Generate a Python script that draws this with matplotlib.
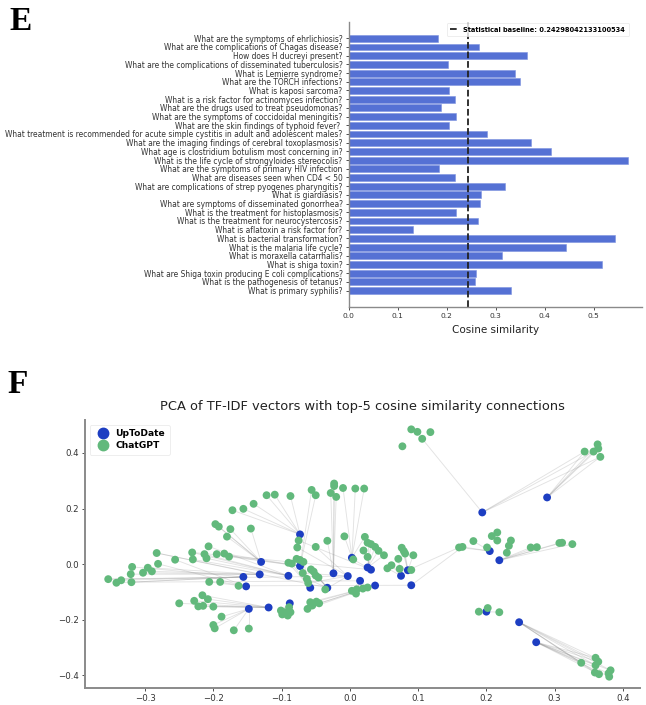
import matplotlib
matplotlib.use("Agg")
import matplotlib.pyplot as plt
from matplotlib.lines import Line2D
from matplotlib.collections import LineCollection

plt.rcParams['font.family'] = ['DejaVu Sans']

# ---------------- Panel E data ----------------
questions = [
    "What are the symptoms of ehrlichiosis?",
    "What are the complications of Chagas disease?",
    "How does H ducreyi present?",
    "What are the complications of disseminated tuberculosis?",
    "What is Lemierre syndrome?",
    "What are the TORCH infections?",
    "What is kaposi sarcoma?",
    "What is a risk factor for actinomyces infection?",
    "What are the drugs used to treat pseudomonas?",
    "What are the symptoms of coccidoidal meningitis?",
    "What are the skin findings of typhoid fever? ",
    "What treatment is recommended for acute simple cystitis in adult and adolescent males?",
    "What are the imaging findings of cerebral toxoplasmosis?",
    "What age is clostridium botulism most concerning in?",
    "What is the life cycle of strongyloides stereocolis?",
    "What are the symptoms of primary HIV infection",
    "What are diseases seen when CD4 < 50",
    "What are complications of strep pyogenes pharyngitis?",
    "What is giardiasis?",
    "What are symptoms of disseminated gonorrhea?",
    "What is the treatment for histoplasmosis?",
    "What is the treatment for neurocystercosis?",
    "What is aflatoxin a risk factor for?",
    "What is bacterial transformation?",
    "What is the malaria life cycle?",
    "What is moraxella catarrhalis?",
    "What is shiga toxin?",
    "What are Shiga toxin producing E coli complications?",
    "What is the pathogenesis of tetanus?",
    "What is primary syphilis?",
]
cosine = [0.182, 0.265, 0.364, 0.203, 0.340, 0.350, 0.204, 0.216, 0.188, 0.219,
          0.205, 0.281, 0.371, 0.413, 0.570, 0.184, 0.216, 0.318, 0.269, 0.268,
          0.218, 0.264, 0.131, 0.544, 0.444, 0.312, 0.517, 0.260, 0.258, 0.331]
baseline = 0.24298042133100534

# ---------------- Panel F data ----------------
# UpToDate points (PCA coordinates)
up_x = [0.289, 0.194, 0.205, 0.219, 0.248, 0.273, 0.200,
        -0.073, -0.130, -0.132, -0.156, -0.152, -0.090, -0.073, -0.058, -0.033,
        -0.024, -0.003, 0.003, 0.015, 0.026, 0.031, 0.037, 0.075, 0.085, 0.090,
        -0.148, -0.119, -0.088]
up_y = [0.240, 0.186, 0.047, 0.014, -0.209, -0.281, -0.171,
        0.107, 0.008, -0.037, -0.046, -0.080, -0.042, -0.007, -0.085, -0.085,
        -0.033, -0.043, 0.023, -0.060, -0.012, -0.020, -0.077, -0.042, -0.022, -0.076,
        -0.161, -0.156, -0.141]

# ChatGPT points and the UpToDate points they are linked to (top-5 cosine)
gpt_x = [0.344, 0.357, 0.363, 0.364, 0.367,
         0.090, 0.099, 0.118, 0.106, 0.077,
         0.160, 0.165, 0.201, 0.181, 0.208, 0.216, 0.216, 0.236, 0.233, 0.230,
         0.265, 0.274, 0.307, 0.311, 0.326,
         0.189, 0.202, 0.219,
         0.339, 0.360, 0.364, 0.360, 0.359, 0.365, 0.379, 0.382, 0.380,
         -0.122, -0.110, -0.087, -0.141, -0.156, -0.172,
         -0.197, -0.192, -0.175, -0.180, -0.145,
         -0.354, -0.342, -0.335, -0.320, -0.319,
         -0.296, -0.290, -0.303, -0.321, -0.283,
         -0.206, -0.190, -0.163, -0.281, -0.256,
         -0.231, -0.230, -0.213, -0.210, -0.207,
         -0.195, -0.184, -0.177, -0.056, -0.050,
         -0.023, -0.023, -0.028, -0.020, -0.033,
         -0.010, 0.008, 0.021, -0.008, 0.022,
         -0.090, -0.085, -0.078, -0.073, -0.068,
         -0.057, -0.053, -0.050, -0.046, -0.063,
         -0.061, -0.069, -0.036, -0.050, -0.077,
         0.003, 0.010, 0.009, 0.019, 0.026,
         0.026, 0.031, 0.037, 0.042, 0.050,
         0.020, 0.026, 0.005, -0.075,
         0.073, 0.061, 0.055, 0.071,
         0.076, 0.079, 0.081, 0.093, 0.090,
         -0.170, -0.148, -0.200, -0.198, -0.188,
         -0.250, -0.228, -0.216, -0.208, -0.222, -0.215, -0.200,
         -0.101, -0.096, -0.089, -0.099, -0.091, -0.087,
         -0.062, -0.058, -0.049, -0.045, -0.055]
gpt_y = [0.405, 0.405, 0.431, 0.416, 0.386,
         0.485, 0.476, 0.475, 0.451, 0.424,
         0.060, 0.062, 0.060, 0.083, 0.101, 0.114, 0.085, 0.085, 0.066, 0.041,
         0.060, 0.061, 0.076, 0.077, 0.072,
         -0.171, -0.158, -0.173,
         -0.355, -0.337, -0.351, -0.364, -0.390, -0.396, -0.393, -0.382, -0.405,
         0.248, 0.250, 0.245, 0.217, 0.199, 0.194,
         0.144, 0.135, 0.126, 0.099, 0.128,
         -0.054, -0.067, -0.058, -0.065, -0.010,
         -0.013, -0.026, -0.031, -0.036, 0.040,
         -0.064, -0.064, -0.078, 0.001, 0.016,
         0.042, 0.017, 0.036, 0.021, 0.064,
         0.036, 0.038, 0.027, 0.267, 0.248,
         0.290, 0.281, 0.256, 0.242, 0.084,
         0.274, 0.272, 0.272, 0.100, 0.098,
         0.005, 0.002, 0.019, 0.015, 0.008,
         -0.019, -0.027, -0.041, -0.048, -0.053,
         -0.068, -0.032, -0.091, 0.062, 0.060,
         -0.096, -0.091, -0.106, -0.088, -0.084,
         0.077, 0.072, 0.062, 0.048, 0.032,
         0.049, 0.026, 0.017, 0.085,
         -0.017, -0.004, -0.015, 0.019,
         0.059, 0.047, 0.038, 0.032, -0.021,
         -0.238, -0.232, -0.219, -0.231, -0.189,
         -0.141, -0.132, -0.112, -0.126, -0.152, -0.150, -0.153,
         -0.167, -0.173, -0.155, -0.181, -0.185, -0.173,
         -0.161, -0.137, -0.135, -0.141, -0.149]
gpt_links = [(0, 1), (0, 1), (0,), (0,), (0, 1),
             (), (), (), (1,), (),
             (2, 24), (2, 25), (2,), (2,), (), (), (), (), (), (),
             (3,), (3,), (3,), (3,), (3,),
             (6,), (6,), (6,),
             (4, 5), (4, 5), (4, 5), (4, 5), (4,), (4, 5), (5,), (4, 5), (5,),
             (7,), (7,), (7,), (7,), (7,), (7,),
             (8,), (8,), (8,), (8,), (8,),
             (10, 17), (10,), (10,), (10, 19), (10,),
             (9,), (9,), (9,), (9,), (9, 15),
             (11,), (11,), (11, 25), (11,), (11,),
             (12, 21), (12,), (12,), (12,), (12,),
             (13,), (13,), (13,), (13,), (13,),
             (16,), (16,), (16,), (16,), (16,),
             (18,), (18,), (18,), (18,), (18,),
             (14,), (14,), (14,), (14,), (14,),
             (15,), (15,), (15,), (15,), (15,),
             (17,), (17,), (17,), (17,), (17,),
             (19,), (19,), (19,), (19,), (19,),
             (20,), (20,), (20,), (20,), (20,),
             (21,), (21,), (21,), (21,),
             (23,), (23,), (23,), (23,),
             (24,), (24,), (24,), (24,), (24,),
             (26,), (26,), (26,), (26,), (26,),
             (27,), (27,), (27,), (27,), (27,), (27,), (27,),
             (28,), (28,), (28,), (28,), (28,), (28,),
             (22,), (22,), (22,), (22,), (22,)]

BAR_COLOR = '#5571d4'
UP_COLOR = '#1d3ec2'
GPT_COLOR = '#62b97c'
SPINE = '#8a8a8a'

fig = plt.figure(figsize=(6.46, 7.05), dpi=100)

# ---------------- Panel E ----------------
axE = fig.add_axes([0.540, 0.5645, 0.454, 0.4045])
ypos = list(range(len(questions)))
axE.barh(ypos, cosine, height=0.8, color=BAR_COLOR, edgecolor='#7d93e0', linewidth=0.4)
axE.axvline(baseline, color='#222222', ls='--', lw=1.3,
            label=f'Statistical baseline: {baseline}')
axE.set_yticks(ypos)
axE.set_yticklabels(questions, fontsize=5.45, color='#333333')
axE.invert_yaxis()
axE.set_xticks([0.0, 0.1, 0.2, 0.3, 0.4, 0.5])
axE.tick_params(axis='x', labelsize=5.4, colors='#333333', length=2.5, width=0.6, pad=2)
axE.tick_params(axis='y', length=2.5, width=0.6, pad=2, colors='#333333')
axE.set_xlabel('Cosine similarity', fontsize=7.5, color='#222222', labelpad=4)
for s in ['top', 'right']:
    axE.spines[s].set_visible(False)
for s in ['left', 'bottom']:
    axE.spines[s].set_color(SPINE)
    axE.spines[s].set_linewidth(1.0)
legE = axE.legend(loc='upper right', prop={'weight': 'bold', 'size': 4.75},
                  frameon=True, handlelength=1.4, borderpad=0.55, handletextpad=0.6,
                  borderaxespad=0.0, bbox_to_anchor=(0.955, 0.996))
legE.get_frame().set_edgecolor('#e6e6e6')
legE.get_frame().set_linewidth(0.6)

fig.text(0.014, 0.970, 'E', fontsize=24, fontweight='bold', family='Liberation Serif', va='center')

# ---------------- Panel F ----------------
axF = fig.add_axes([0.1316, 0.024, 0.859, 0.38])
segs = []
for gx, gy, links in zip(gpt_x, gpt_y, gpt_links):
    for b in links:
        segs.append([(up_x[b], up_y[b]), (gx, gy)])
axF.add_collection(LineCollection(segs, colors='#888888', alpha=0.24, linewidths=0.65, zorder=1))
axF.scatter(up_x, up_y, s=32, color=UP_COLOR, edgecolors='none', zorder=2, label='UpToDate')
axF.scatter(gpt_x, gpt_y, s=32, color=GPT_COLOR, edgecolors='none', zorder=3, label='ChatGPT')
axF.set_xlim(-0.388, 0.425)
axF.set_ylim(-0.446, 0.518)
axF.set_xticks([-0.3, -0.2, -0.1, 0.0, 0.1, 0.2, 0.3, 0.4])
axF.set_yticks([-0.4, -0.2, 0.0, 0.2, 0.4])
axF.tick_params(labelsize=6.2, colors='#333333', length=2.5, width=0.6, pad=2)
axF.set_title('PCA of TF-IDF vectors with top-5 cosine similarity connections',
              fontsize=9.4, color='#222222', pad=7)
for s in ['top', 'right']:
    axF.spines[s].set_visible(False)
for s in ['left', 'bottom']:
    axF.spines[s].set_color(SPINE)
    axF.spines[s].set_linewidth(1.4)
handles = [Line2D([0], [0], marker='o', ls='none', color=UP_COLOR, markersize=7.5),
           Line2D([0], [0], marker='o', ls='none', color=GPT_COLOR, markersize=7.5)]
legF = axF.legend(handles, ['UpToDate', 'ChatGPT'], loc='upper left',
                  prop={'weight': 'bold', 'size': 6.6}, frameon=True,
                  handletextpad=0.3, borderpad=0.5, labelspacing=0.3)
legF.get_frame().set_edgecolor('#e6e6e6')
legF.get_frame().set_linewidth(0.6)

fig.text(0.012, 0.454, 'F', fontsize=24, fontweight='bold', family='Liberation Serif', va='center')

fig.savefig('out.png', dpi=100)
